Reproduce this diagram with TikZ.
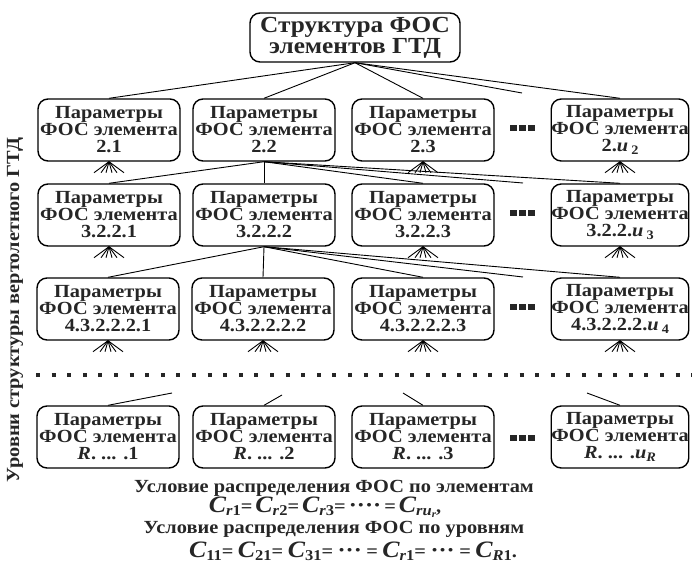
\documentclass[tikz,border=0pt]{standalone}
\usepackage{fontspec}
\setmainfont{Liberation Serif}[FakeStretch=1.1]
\newcommand\Cs[1]{{\fontsize{23.5}{22}\selectfont\bfseries\itshape C}\raisebox{-0.35ex}{\fontsize{15}{14}\selectfont\bfseries #1}}
\newcommand\sub[1]{\raisebox{-0.45ex}{\fontsize{13}{13}\selectfont #1}}
\newcommand\dts[1]{{\fontsize{22}{22}\selectfont #1}}
\newcommand\gp{\hspace{4.5pt}}
\begin{document}
\begin{tikzpicture}[x=1pt,y=-1pt,
  box/.style={draw, line width=1.4pt, rounded corners=10pt, minimum width=142pt,
    minimum height=62pt, inner sep=0pt, align=center,
    font=\fontsize{18.5}{17}\selectfont\bfseries, text=black!85},
  link/.style={line width=0.9pt},
  sq/.style={fill=black!85, minimum size=6.5pt, inner sep=0pt},
  txt/.style={font=\fontsize{18.5}{18}\selectfont\bfseries, text=black!85, inner sep=0pt}
]
\useasboundingbox (0,0) rectangle (692,567);
% top
\node[box, minimum width=210pt, minimum height=49pt, font=\fontsize{23}{18}\selectfont\bfseries] (top) at (355,37.5) {Структура ФОС\\элементов ГТД};
% row 1
\node[box] (a1) at (109,130) {Параметры\\ФОС элемента\\2.1};
\node[box] (a2) at (264,130) {Параметры\\ФОС элемента\\2.2};
\node[box] (a3) at (423,130) {Параметры\\ФОС элемента\\2.3};
\node[box, minimum width=136pt] (a4) at (620,130) {Параметры\\ФОС элемента\\2.\textit{u}\,\sub{2}};
% row 2
\node[box] (b1) at (109,215) {Параметры\\ФОС элемента\\3.2.2.1};
\node[box] (b2) at (264,215) {Параметры\\ФОС элемента\\3.2.2.2};
\node[box] (b3) at (423,215) {Параметры\\ФОС элемента\\3.2.2.3};
\node[box, minimum width=136pt] (b4) at (620,215) {Параметры\\ФОС элемента\\3.2.2.\textit{u}\,\sub{3}};
% row 3
\node[box] (c1) at (108,309) {Параметры\\ФОС элемента\\4.3.2.2.2.1};
\node[box] (c2) at (263,309) {Параметры\\ФОС элемента\\4.3.2.2.2.2};
\node[box] (c3) at (423,309) {Параметры\\ФОС элемента\\4.3.2.2.2.3};
\node[box, minimum width=136pt] (c4) at (620,309) {Параметры\\ФОС элемента\\4.3.2.2.2.\textit{u}\,\sub{4}};
% row 4
\node[box] (d1) at (108,437) {Параметры\\ФОС элемента\\\textit{R}. ... .1};
\node[box] (d2) at (264,437) {Параметры\\ФОС элемента\\\textit{R}. ... .2};
\node[box] (d3) at (423,437) {Параметры\\ФОС элемента\\\textit{R}. ... .3};
\node[box, minimum width=136pt] (d4) at (620,437) {Параметры\\ФОС элемента\\\textit{R}. ... .\textit{u}\sub{\textit{R}}};
% dots in rows
\foreach \r/\y in {1/128,2/213,3/307,4/438}{
  \node[sq] (dl\r) at (513.5,\y) {};
  \node[sq] (dm\r) at (522.5,\y) {};
  \node[sq] (dr\r) at (531.5,\y) {};
}
\coordinate (e1) at (522,93);
\coordinate (e2) at (523,183);
\coordinate (e3) at (523,277);
% connectors
\foreach \n in {a1,a2,a3,a4} \draw[link] (top.south) -- (\n.north);
\draw[link] (top.south) -- (e1);
\foreach \n in {b1,b2,b3,b4} \draw[link] (a2.south) -- (\n.north);
\draw[link] (a2.south) -- (e2);
\foreach \n in {c1,c2,c3,c4} \draw[link] (b2.south) -- (\n.north);
\draw[link] (b2.south) -- (e3);
% stubs above last row
\coordinate (s1) at (172,393);
\coordinate (s2) at (282,395);
\coordinate (s3) at (403,393);
\coordinate (s4) at (587,393);
\draw[link] (d1.north) -- (s1);
\draw[link] (d2.north) -- (s2);
\draw[link] (d3.north) -- (s3);
\draw[link] (d4.north) -- (s4);
% fans
\foreach \n in {a1,a3,a4,b1,b3,b4,c1,c2,c3,c4}
  \foreach \d in {-15,-8,-3,3,8,15}
    \draw[link] (\n.south) -- ++(\d,11);
% dotted level separator
\coordinate (L1) at (36,375);
\coordinate (L2) at (692,375);
\draw[line width=4pt, dash pattern=on 4pt off 11.6pt, draw=black!85] (L1) -- (L2);
% side label
\node[txt, rotate=90] (side) at (15,310) {Уровни структуры вертолетного ГТД};
% conditions
\node[txt] (t1) at (334,488) {Условие распределения ФОС по элементам};
\node[txt] (t2) at (325,507) {\Cs{\textit{r}1}=\,\Cs{\textit{r}2}=\,\Cs{\textit{r}3}=\,\dts{····}\,=\,\Cs{\textit{ru}\raisebox{-0.3ex}{\fontsize{10}{10}\selectfont\textit{r}}},};
\node[txt] (t3) at (334,529) {Условие распределения ФОС по уровням};
\node[txt] (t4) at (353,551) {\Cs{11}=\gp\Cs{21}=\gp\Cs{31}=\gp\dts{···}\gp=\gp\Cs{\textit{r}1}=\gp\dts{···}\gp=\gp\Cs{\textit{R}1}.};
\end{tikzpicture}
\end{document}
